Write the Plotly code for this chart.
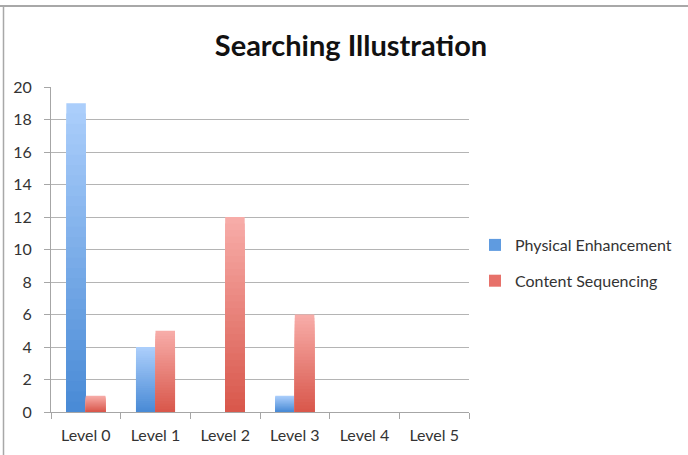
import plotly.graph_objects as go

# Chart data
categories = ["Level 0", "Level 1", "Level 2", "Level 3", "Level 4", "Level 5"]
physical_enhancement = [19, 4, 0, 1, 0, 0]
content_sequencing = [1, 5, 12, 6, 0, 0]

series = [
    ("Physical Enhancement", physical_enhancement, (171, 206, 251), (74, 139, 214), "#5f9be0"),
    ("Content Sequencing", content_sequencing, (247, 172, 168), (217, 88, 76), "#e7716a"),
]

N_STEPS = 30  # layers used to shade each bar from light (top) to dark (bottom)


def mix(c1, c2, t):
    return "rgb(%d,%d,%d)" % tuple(round(a + (b - a) * t) for a, b in zip(c1, c2))


fig = go.Figure()
for name, values, top_col, bottom_col, legend_col in series:
    # legend entry
    fig.add_trace(go.Bar(
        x=categories, y=[0] * len(values), name=name, offsetgroup=name,
        legendgroup=name, marker=dict(color=legend_col, line=dict(width=0)),
        hoverinfo="skip",
    ))
    # shaded layers: full-height light bar first, then successively shorter darker bars
    for k in range(N_STEPS):
        frac = (N_STEPS - k) / N_STEPS
        fig.add_trace(go.Bar(
            x=categories, y=[v * frac for v in values], name=name,
            offsetgroup=name, legendgroup=name, showlegend=False,
            marker=dict(color=mix(top_col, bottom_col, k / (N_STEPS - 1)), line=dict(width=0)),
            customdata=values, hovertemplate="%{x}: %{customdata}<extra>" + name + "</extra>",
        ))

L, R, T, B = 51, 219, 87, 43
W, H = 688, 455
pw, ph = W - L - R, H - T - B

def px_x(p):
    return (p - L) / pw

def px_y(p):
    return (H - B - p) / ph

FONT = "Lato, 'Open Sans', sans-serif"

fig.update_layout(
    width=W, height=H,
    margin=dict(l=L, r=R, t=T, b=B, pad=0, autoexpand=False),
    paper_bgcolor="white", plot_bgcolor="white",
    barmode="group", bargap=0.44, bargroupgap=0,
    font=dict(family=FONT, size=15, color="#333333"),
    title=dict(
        text="<b>Searching Illustration</b>",
        x=351 / W, xref="container", xanchor="center",
        y=1 - 46 / H, yref="container", yanchor="middle",
        font=dict(family=FONT, size=29, color="#111111"),
    ),
    legend=dict(
        x=px_x(475), y=px_y(228), xanchor="left", yanchor="top",
        traceorder="grouped", tracegroupgap=12,
        font=dict(family=FONT, size=16, color="#333333"), bgcolor="rgba(0,0,0,0)",
        itemwidth=30,
    ),
    showlegend=True,
    xaxis=dict(
        type="category", showline=True, linecolor="#a6a6a6", linewidth=1,
        ticks="outside", tickson="boundaries", ticklen=6, tickcolor="#a6a6a6",
        showgrid=False, tickfont=dict(size=16, color="#333333"),
        ticklabelstandoff=9, fixedrange=True,
    ),
    yaxis=dict(
        range=[0, 20], dtick=2, showline=True, linecolor="#a6a6a6", linewidth=1,
        ticks="outside", ticklen=6, tickcolor="#a6a6a6",
        showgrid=True, gridcolor="#b4b4b4", gridwidth=1, zeroline=False,
        tickfont=dict(size=16, color="#333333"), ticklabelstandoff=9,
        fixedrange=True,
    ),
    shapes=[
        # chart frame: top and left edges
        dict(type="line", xref="paper", yref="paper", x0=px_x(0), x1=px_x(W), y0=px_y(6), y1=px_y(6),
             line=dict(color="#a8a8a8", width=2)),
        dict(type="line", xref="paper", yref="paper", x0=px_x(3.5), x1=px_x(3.5), y0=px_y(6), y1=px_y(H),
             line=dict(color="#a8a8a8", width=1.5)),
    ],
)

fig.write_html("out.html")
